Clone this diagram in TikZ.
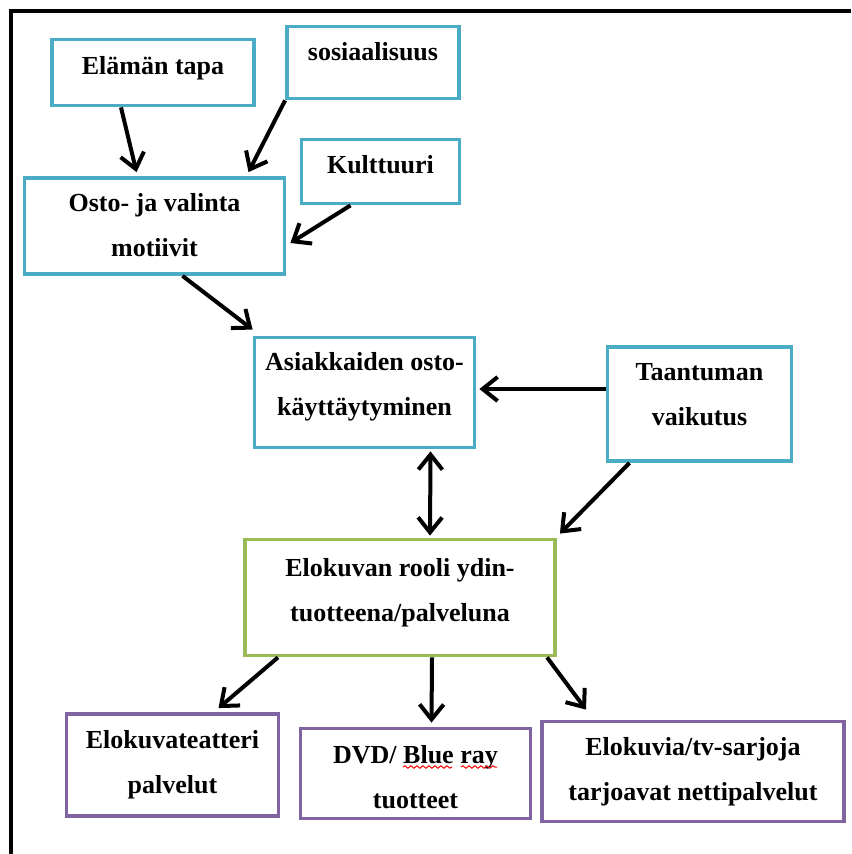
\documentclass[tikz,border=0pt]{standalone}
\usepackage{fontspec}
\setmainfont{Liberation Serif}
\usetikzlibrary{positioning,arrows.meta,decorations.pathmorphing}
\definecolor{boxblue}{RGB}{75,172,198}
\definecolor{boxgreen}{RGB}{155,187,89}
\definecolor{boxpurple}{RGB}{128,100,162}
\begin{document}
\begin{tikzpicture}[x=0.5pt,y=-0.5pt,
  box/.style={draw,line width=1.9pt,inner sep=0pt},
  bluebox/.style={box,draw=boxblue},
  greenbox/.style={box,draw=boxgreen},
  purplebox/.style={box,draw=boxpurple},
  txt/.style={inner sep=0pt,align=center,font=\bfseries\fontsize{13}{22.5}\selectfont},
  arr/.style={line width=2pt,-{Straight Barb[length=7.5pt,width=12pt]}},
  darr/.style={line width=2pt,{Straight Barb[length=7.5pt,width=12pt]}-{Straight Barb[length=7.5pt,width=12pt]}}]
\useasboundingbox (0,0) rectangle (851,854);
\draw [line width=2pt] (10.8,854) -- (10.8,11.3) -- (851,11.3);
% boxes
\node [bluebox,minimum width=101pt,minimum height=33pt] (elama) at (153,72.5) {};
\node [bluebox,minimum width=86pt,minimum height=36pt] (sosi) at (373,62.5) {};
\node [bluebox,minimum width=79pt,minimum height=32pt] (kult) at (380.5,171.5) {};
\node [bluebox,minimum width=130pt,minimum height=48pt] (osto) at (154.5,226) {};
\node [bluebox,minimum width=110pt,minimum height=55pt] (asia) at (364.5,392.5) {};
\node [bluebox,minimum width=92pt,minimum height=57pt] (taan) at (699.5,404) {};
\node [greenbox,minimum width=155pt,minimum height=58pt] (elok) at (400,597.5) {};
\node [purplebox,minimum width=106pt,minimum height=51pt] (teat) at (172.5,765) {};
\node [purplebox,minimum width=115pt,minimum height=45pt] (dvd) at (415.5,773.5) {};
\node [purplebox,minimum width=151pt,minimum height=50pt] (netti) at (693,771.5) {};
% texts
\node [txt,below=9pt of elama.north] (elamatxt) {Elämän tapa};
\node [txt,below=8.5pt of sosi.north] (sositxt) {sosiaalisuus};
\node [txt,below=8.5pt of kult.north] (kulttxt) {Kulttuuri};
\node [txt,below=8.5pt of osto.north] (ostotxt) {Osto- ja valinta\\motiivit};
\node [txt,below=8pt of asia.north] (asiatxt) {Asiakkaiden osto-\\käyttäytyminen};
\node [txt,below=9pt of taan.north] (taantxt) {Taantuman\\vaikutus};
\node [txt,below=10pt of elok.north] (eloktxt) {Elokuvan rooli ydin-\\tuotteena/palveluna};
\node [txt,below=9pt of teat.north] (teattxt) {Elokuvateatteri\\palvelut};
\node [txt,below=9pt of dvd.north] (dvdtxt) {DVD/ Blue ray\\tuotteet};
\node [txt,below=8.5pt of netti.north] (nettitxt) {Elokuvia/tv-sarjoja\\tarjoavat nettipalvelut};
\draw [red,line width=0.5pt,decorate,decoration={snake,amplitude=0.6pt,segment length=3pt}] (403,767) -- (452,767);
\draw [red,line width=0.5pt,decorate,decoration={snake,amplitude=0.6pt,segment length=3pt}] (461,767) -- (497,767);
% arrows
\draw [arr] ([xshift=-16pt]elama.south) -- ([xshift=-9pt,yshift=2pt]osto.north);
\draw [arr] (sosi.south west) -- ([xshift=47pt,yshift=2pt]osto.north);
\draw [arr] ([xshift=-15pt]kult.south) -- ([xshift=2pt,yshift=-8.5pt]osto.east);
\draw [arr] ([xshift=14pt]osto.south) -- ([yshift=3pt]asia.north west);
\draw [arr] ([yshift=7.5pt]taan.west) -- ([xshift=1.5pt,yshift=1.75pt]asia.east);
\draw [darr] ([xshift=33pt,yshift=-1pt]asia.south) -- ([xshift=15pt,yshift=1pt]elok.north);
\draw [arr] ([xshift=-35pt]taan.south) -- ([xshift=1.5pt,yshift=2pt]elok.north east);
\draw [arr] ([xshift=-61pt]elok.south) -- ([xshift=23pt,yshift=2pt]teat.north);
\draw [arr] ([xshift=16pt]elok.south) -- ([xshift=8pt,yshift=2pt]dvd.north);
\draw [arr] ([xshift=73.5pt]elok.south) -- ([xshift=-53.5pt,yshift=5pt]netti.north);
\end{tikzpicture}
\end{document}
